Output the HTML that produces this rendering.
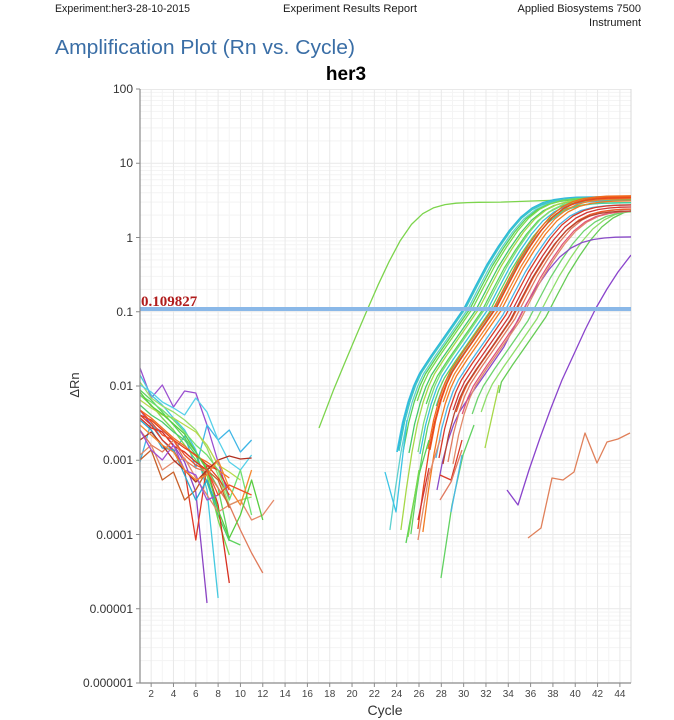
<!DOCTYPE html>
<html><head><meta charset="utf-8"><style>
html,body{margin:0;padding:0;background:#fff;}
svg{display:block;}
text{font-family:"Liberation Sans",Arial,sans-serif;}
</style></head><body>
<svg width="674" height="720" viewBox="0 0 674 720" xmlns="http://www.w3.org/2000/svg">
<defs>
<clipPath id="pc"><rect x="140" y="89" width="491" height="594"/></clipPath>
<path id="minor" d="M140,-22.35H631M140,-35.43H631M140,-44.7H631M140,-51.9H631M140,-57.78H631M140,-62.75H631M140,-67.05H631M140,-70.84H631"/>
<path id="s7" d="M-78.1,530L-72.5,488L-67,452L-61.4,423L-55.8,402L-50.2,386L-44.6,374L-33.5,357L-22.3,341L-11.2,325L0,308.7L11.2,287L22.3,266L33.5,248L44.6,232L55.8,219L67,210L78.1,204.5L89.3,201.5L100.4,200L111.6,199.2L145.1,198.6L223,198.3"/>
<path id="s6" d="M-67,452L-61.4,423L-55.8,402L-50.2,386L-44.6,374L-33.5,357L-22.3,341L-11.2,325L0,308.7L11.2,287L22.3,266L33.5,248L44.6,232L55.8,219L67,210L78.1,204.5L89.3,201.5L100.4,200L111.6,199.2L145.1,198.6L223,198.3"/>
<path id="s5" d="M-55.8,402L-50.2,386L-44.6,374L-33.5,357L-22.3,341L-11.2,325L0,308.7L11.2,287L22.3,266L33.5,248L44.6,232L55.8,219L67,210L78.1,204.5L89.3,201.5L100.4,200L111.6,199.2L145.1,198.6L223,198.3"/>
<path id="s4" d="M-47,385L-44.6,374L-33.5,357L-22.3,341L-11.2,325L0,308.7L11.2,287L22.3,266L33.5,248L44.6,232L55.8,219L67,210L78.1,204.5L89.3,201.5L100.4,200L111.6,199.2L145.1,198.6L223,198.3"/>
</defs>

<!-- Header -->
<text x="55" y="12" font-size="11" fill="#1a1a1a" textLength="135" lengthAdjust="spacingAndGlyphs">Experiment:her3-28-10-2015</text>
<text x="283" y="12" font-size="11" fill="#1a1a1a" textLength="134" lengthAdjust="spacingAndGlyphs">Experiment Results Report</text>
<text x="641" y="12" font-size="11" fill="#1a1a1a" text-anchor="end">Applied Biosystems 7500</text>
<text x="641" y="26" font-size="11" fill="#1a1a1a" text-anchor="end">Instrument</text>
<text x="55" y="54" font-size="20.5" fill="#3a6ea6" textLength="300" lengthAdjust="spacingAndGlyphs">Amplification Plot (Rn vs. Cycle)</text>
<text x="346" y="80" font-size="19" font-weight="bold" fill="#000" text-anchor="middle">her3</text>

<!-- Grid -->
<g stroke="#f4f4f4" stroke-width="1" fill="none">
<use href="#minor" transform="translate(0,683)"/>
<use href="#minor" transform="translate(0,608.75)"/>
<use href="#minor" transform="translate(0,534.5)"/>
<use href="#minor" transform="translate(0,460.25)"/>
<use href="#minor" transform="translate(0,386)"/>
<use href="#minor" transform="translate(0,311.75)"/>
<use href="#minor" transform="translate(0,237.5)"/>
<use href="#minor" transform="translate(0,163.25)"/>
<path d="M162.32,89V683M184.64,89V683M206.96,89V683M229.28,89V683M251.6,89V683M273.92,89V683M296.24,89V683M318.56,89V683M340.88,89V683M363.2,89V683M385.52,89V683M407.84,89V683M430.16,89V683M452.48,89V683M474.8,89V683M497.12,89V683M519.44,89V683M541.76,89V683M564.08,89V683M586.4,89V683M608.72,89V683"/>
</g>
<g stroke="#e9e9e9" stroke-width="1" fill="none">
<path d="M151.16,89V683M173.48,89V683M195.8,89V683M218.12,89V683M240.44,89V683M262.76,89V683M285.08,89V683M307.4,89V683M329.72,89V683M352.04,89V683M374.36,89V683M396.68,89V683M419,89V683M441.32,89V683M463.64,89V683M485.96,89V683M508.28,89V683M530.6,89V683M552.92,89V683M575.24,89V683M597.56,89V683M619.88,89V683"/>
<path d="M140,608.75H631M140,534.5H631M140,460.25H631M140,386H631M140,311.75H631M140,237.5H631M140,163.25H631M140,89.5H631"/>
</g>
<path d="M631,89V683" stroke="#d8d8d8" stroke-width="1"/>

<!-- Curves -->
<g clip-path="url(#pc)" fill="none" stroke-width="1.3" stroke-linejoin="round">
<!-- baseline noise -->
<polyline stroke="#9a4fd0" points="140,368 151.2,398 162.3,385 173.5,407 184.6,391 195.8,393 207,425 218.1,462 229.3,498"/>
<polyline stroke="#8b44c4" points="140,410 151.2,425 162.3,432 173.5,445 184.6,462 195.8,492 207,603"/>
<polyline stroke="#45c9e0" points="140,375 151.2,395 162.3,405 173.5,418 184.6,430 195.8,450 207,490 218.1,598"/>
<polyline stroke="#3fb6e6" points="140,462 151.2,422 162.3,440 173.5,452 184.6,436 195.8,468 207,425 218.1,440 229.3,430 240.4,452 251.6,440"/>
<polyline stroke="#5dd35d" points="140,390 151.2,400 162.3,412 173.5,425 184.6,438 195.8,452 207,468 218.1,488 229.3,540 240.4,545"/>
<polyline stroke="#78d850" points="140,395 151.2,405 162.3,418 173.5,430 184.6,445 195.8,460 207,475 218.1,520 229.3,555"/>
<polyline stroke="#9ade6a" points="140,382 151.2,398 162.3,406 173.5,412 184.6,420 195.8,430 207,448 218.1,475 229.3,505 240.4,500 251.6,497"/>
<polyline stroke="#b8d84a" points="140,400 151.2,408 162.3,415 173.5,418 184.6,425 195.8,432 207,445 218.1,465 229.3,472 240.4,480"/>
<polyline stroke="#4ccb6c" points="140,405 151.2,415 162.3,422 173.5,432 184.6,440 195.8,455 207,482 218.1,515 229.3,541"/>
<polyline stroke="#f07020" points="140,410 151.2,418 162.3,428 173.5,438 184.6,446 195.8,456 207,462 218.1,470 229.3,478"/>
<polyline stroke="#e04020" points="140,415 151.2,420 162.3,430 173.5,440 184.6,448 195.8,455 207,465 218.1,478 229.3,495"/>
<polyline stroke="#d83020" points="140,418 151.2,428 162.3,432 173.5,446 184.6,452 195.8,462 207,470 218.1,505 229.3,583"/>
<polyline stroke="#e03a28" points="140,415 151.2,425 162.3,440 173.5,450 184.6,470 195.8,540 207,465 218.1,470 229.3,490"/>
<polyline stroke="#e07a5a" points="140,430 151.2,445 162.3,452 173.5,440 184.6,460 195.8,468 207,472 218.1,488 229.3,505 240.4,530 251.6,553 262.8,573"/>
<polyline stroke="#e58a6a" points="140,455 151.2,445 162.3,470 173.5,462 184.6,458 195.8,478 207,495 218.1,512 229.3,505 240.4,500 251.6,520 262.8,515 273.9,500"/>
<polyline stroke="#c8602a" points="140,460 151.2,450 162.3,480 173.5,472 184.6,500 195.8,490 207,470 218.1,480 229.3,508"/>
<polyline stroke="#55d0e8" points="140,385 151.2,392 162.3,402 173.5,408 184.6,415 195.8,398 207,412 218.1,440 229.3,462 240.4,470 251.6,455"/>
<polyline stroke="#2aa8d0" points="140,420 151.2,430 162.3,448 173.5,450 184.6,475 195.8,500 207,480 218.1,510"/>
<polyline stroke="#6ee06e" points="140,395 151.2,402 162.3,410 173.5,420 184.6,432 195.8,445 207,455 218.1,470 229.3,500 240.4,470 251.6,515"/>
<polyline stroke="#b03020" points="140,440 151.2,432 162.3,445 173.5,460 184.6,470 195.8,482 207,470 218.1,460 229.3,456 240.4,459 251.6,458"/>
<polyline stroke="#a050d0" points="140,430 151.2,450 162.3,460 173.5,445 184.6,470 195.8,475 207,500 218.1,495"/>
<polyline stroke="#58cc40" points="140,392 151.2,406 162.3,414 173.5,424 184.6,434 195.8,452 207,470 218.1,510 229.3,538 240.4,515 251.6,480 262.8,520"/>
<polyline stroke="#f58a30" points="140,425 151.2,435 162.3,445 173.5,452 184.6,470 195.8,480 207,475 218.1,460 229.3,488 240.4,505 251.6,470"/>
<polyline stroke="#f05028" points="140,410 151.2,422 162.3,435 173.5,440 184.6,455 195.8,465 207,470 218.1,495 229.3,485 240.4,490 251.6,495"/>

<!-- early green -->
<path stroke="#7cd44c" d="M319,428L333.4,390.3L344.5,363.5L355.7,336.9L366.9,310.6L378,285.2L389.2,261.4L400.3,240.6L411.5,224.4L422.7,213.7L433.8,207.7L445,204.6L456.1,203.2L467.3,202.6L478.5,202.3L500.8,202.1L560,200L632,198"/>

<!-- amplification cluster -->
<use href="#s6" transform="translate(464,0)" stroke="#3cc4e4" stroke-width="1.8"/>
<use href="#s6" transform="translate(465,-2)" stroke="#2fb8dc"/>
<use href="#s6" transform="translate(466,-1)" stroke="#40c8c0"/>
<use href="#s7" transform="translate(468,0)" stroke="#5fd0cf"/>
<use href="#s6" transform="translate(470,0)" stroke="#56d156"/>
<use href="#s5" transform="translate(473,-1)" stroke="#7ad94e"/>
<use href="#s6" transform="translate(476,1)" stroke="#45c96a"/>
<use href="#s7" transform="translate(479,0)" stroke="#a6d848"/>
<use href="#s5" transform="translate(482,2)" stroke="#5cd65c"/>
<use href="#s6" transform="translate(485,0)" stroke="#7fdc7a"/>
<use href="#s6" transform="translate(487,2)" stroke="#38c0e0"/>
<use href="#s7" transform="translate(489,4)" stroke="#62d262"/>
<use href="#s5" transform="translate(492,4)" stroke="#3fd0a0"/>
<use href="#s4" transform="translate(546,8)" stroke="#66cc55"/>
<use href="#s5" transform="translate(537,10)" stroke="#8ede6a"/>
<use href="#s5" transform="translate(528,12)" stroke="#6fd46f"/>
<use href="#s6" transform="translate(504,38)" stroke="#8a4cc8"/>
<use href="#s6" transform="translate(503,6)" stroke="#4ab6e6"/>
<use href="#s6" transform="translate(520,12)" stroke="#e28a6a"/>
<use href="#s5" transform="translate(518,12)" stroke="#e0587a"/>
<use href="#s6" transform="translate(515,10)" stroke="#e07a60"/>
<use href="#s5" transform="translate(512,10)" stroke="#ea5a2a"/>
<use href="#s6" transform="translate(510,12)" stroke="#b84430"/>
<use href="#s5" transform="translate(509,8)" stroke="#cf3636"/>
<use href="#s6" transform="translate(506,6)" stroke="#d83a2a"/>
<use href="#s7" transform="translate(501,2)" stroke="#f37b22"/>
<use href="#s5" transform="translate(499,0)" stroke="#f08030"/>
<use href="#s6" transform="translate(497,-2)" stroke="#ef5a1c"/>
<use href="#s7" transform="translate(496,-1)" stroke="#e8471e"/>
<use href="#s6" transform="translate(495,-3)" stroke="#f26a1c"/>

<!-- tails -->
<polyline stroke="#62d262" points="441,578 452,505 463,455 474,425"/>
<polyline stroke="#56d156" points="406,543 418,478 429,440"/>
<polyline stroke="#7ad94e" points="408,537 419,470"/>
<polyline stroke="#e28a6a" points="418,540 429,475 440,440"/>
<polyline stroke="#d83a2a" points="440,475 451,480 462,440"/>
<polyline stroke="#e07a60" points="440,500 451,482 462,450"/>
<polyline stroke="#3cc4e4" points="385,472 396,512 407,420"/>
<polyline stroke="#4ab6e6" points="451,512 462,455"/>
<polyline stroke="#cf3636" points="418,520 429,468"/>
<polyline stroke="#a6d848" points="485,448 499,385"/>

<!-- late purple -->
<polyline stroke="#8a44cc" points="507,490 518,505 529,470 540,438 551,408 562,380 574,354 585,330 596,308 607,289 618,272 631,255"/>
<!-- late salmon -->
<polyline stroke="#e0805a" points="528,538 541,528 552,478 563,480 574,472 585,433 597,463 607,442 618,439 630,433"/>
</g>

<!-- threshold -->
<rect x="140" y="307" width="491" height="4" fill="#8ab8e8"/>
<text x="141" y="306" font-size="15" font-weight="bold" fill="#b01c1c" style="font-family:'Liberation Serif',serif">0.109827</text>

<!-- axes -->
<path d="M140,89V683H631" stroke="#8a8a8a" stroke-width="1.2" fill="none"/>
<path d="M136,89H140M136,163.25H140M136,237.5H140M136,311.75H140M136,386H140M136,460.25H140M136,534.5H140M136,608.75H140M136,683H140" stroke="#8a8a8a" stroke-width="1"/>
<path d="M151.16,683V687M173.48,683V687M195.8,683V687M218.12,683V687M240.44,683V687M262.76,683V687M285.08,683V687M307.4,683V687M329.72,683V687M352.04,683V687M374.36,683V687M396.68,683V687M419,683V687M441.32,683V687M463.64,683V687M485.96,683V687M508.28,683V687M530.6,683V687M552.92,683V687M575.24,683V687M597.56,683V687M619.88,683V687" stroke="#8a8a8a" stroke-width="1"/>

<g font-size="12" fill="#333" text-anchor="end">
<text x="133" y="93">100</text>
<text x="133" y="167">10</text>
<text x="133" y="242">1</text>
<text x="133" y="316">0.1</text>
<text x="133" y="390">0.01</text>
<text x="133" y="464">0.001</text>
<text x="133" y="539">0.0001</text>
<text x="133" y="613">0.00001</text>
<text x="133" y="687">0.000001</text>
</g>
<g font-size="10" fill="#444" text-anchor="middle">
<text x="151.16" y="697">2</text>
<text x="173.48" y="697">4</text>
<text x="195.8" y="697">6</text>
<text x="218.12" y="697">8</text>
<text x="240.44" y="697">10</text>
<text x="262.76" y="697">12</text>
<text x="285.08" y="697">14</text>
<text x="307.4" y="697">16</text>
<text x="329.72" y="697">18</text>
<text x="352.04" y="697">20</text>
<text x="374.36" y="697">22</text>
<text x="396.68" y="697">24</text>
<text x="419" y="697">26</text>
<text x="441.32" y="697">28</text>
<text x="463.64" y="697">30</text>
<text x="485.96" y="697">32</text>
<text x="508.28" y="697">34</text>
<text x="530.6" y="697">36</text>
<text x="552.92" y="697">38</text>
<text x="575.24" y="697">40</text>
<text x="597.56" y="697">42</text>
<text x="619.88" y="697">44</text>
</g>
<text x="385" y="715" font-size="14" fill="#333" text-anchor="middle">Cycle</text>
<text x="0" y="0" font-size="13" fill="#333" text-anchor="middle" transform="translate(79,385) rotate(-90)">ΔRn</text>
</svg>
</body></html>
